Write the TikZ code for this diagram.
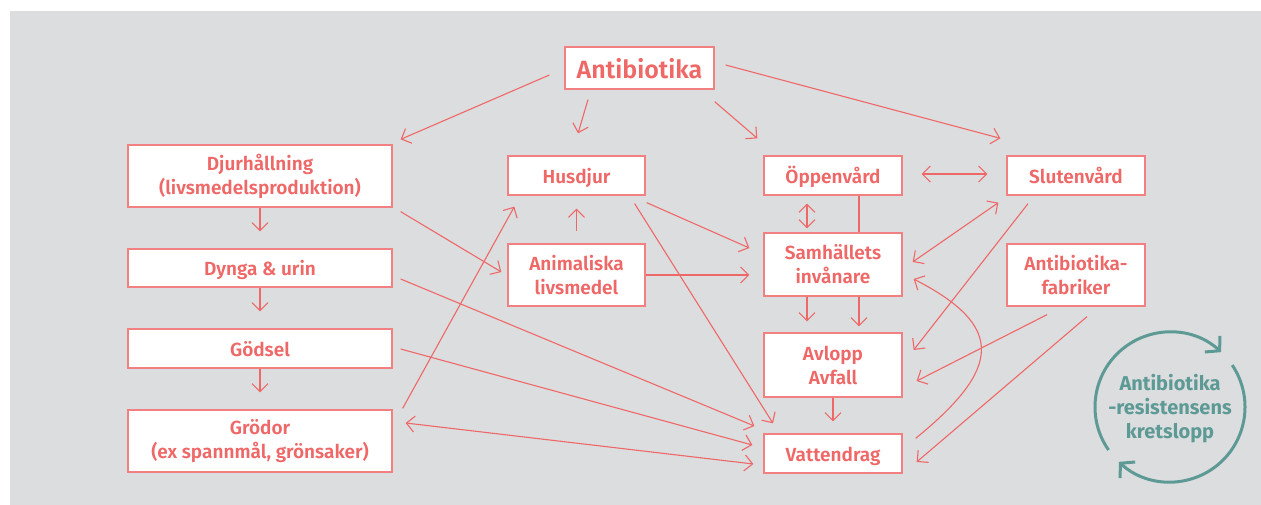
\documentclass[tikz,border=0pt]{standalone}
\usepackage{fontspec}
\setmainfont{Fira Sans}
\newfontfamily\semib{Fira Sans SemiBold}
\usetikzlibrary{arrows.meta,calc}
\definecolor{redc}{RGB}{239,104,104}
\definecolor{boxred}{RGB}{243,128,128}
\definecolor{bggray}{RGB}{220,221,223}
\definecolor{tealc}{RGB}{94,154,149}
\begin{document}
\begin{tikzpicture}[x=1pt,y=-1pt,
  >={Straight Barb[length=8pt,width=16pt]},
  box/.style={draw=boxred, line width=1.3pt, fill=white, text=redc, align=center,
    inner sep=0pt, font=\fontsize{19}{24}\selectfont\semib},
  one/.style={text height=20pt, text depth=4pt},
  arr/.style={draw=redc, line width=1.1pt, ->},
  darr/.style={draw=redc, line width=1.1pt, <->},
  plain/.style={draw=redc, line width=1.1pt},
  cyc/.style={draw=tealc, line width=3pt, line cap=butt, -{Straight Barb[length=10pt,width=22pt]}}]
\useasboundingbox (0,0) rectangle (1261,505);
\fill[bggray] (10,11) rectangle (1261,505);

% nodes
\node[box, minimum width=149, minimum height=42, font=\fontsize{25}{28}\selectfont\semib, text height=26pt, text depth=4.8pt] (anti) at (639.5,68) {Antibiotika};
\node[box, minimum width=264, minimum height=62] (djur) at (260,176) {Djurhållning\\(livsmedelsproduktion)};
\node[box, one, minimum width=264, minimum height=38] (dynga) at (260,268) {Dynga \& urin};
\node[box, one, minimum width=264, minimum height=39] (godsel) at (260,348.5) {Gödsel};
\node[box, minimum width=264, minimum height=62] (grodor) at (260,441) {Grödor\\(ex spannmål, grönsaker)};
\node[box, one, minimum width=137, minimum height=39] (husdjur) at (576.5,175.5) {Husdjur};
\node[box, minimum width=137, minimum height=62] (anim) at (576.5,275) {Animaliska\\livsmedel};
\node[box, one, minimum width=138, minimum height=39] (oppen) at (833,175.5) {Öppenvård};
\node[box, one, minimum width=138, minimum height=39] (sluten) at (1076,175.5) {Slutenvård};
\node[box, minimum width=138, minimum height=63] (samh) at (833,264.5) {Samhällets\\invånare};
\node[box, minimum width=138, minimum height=62] (fabr) at (1076,275) {Antibiotika-\\fabriker};
\node[box, minimum width=138, minimum height=64] (avlopp) at (833,365) {Avlopp\\Avfall};
\node[box, one, minimum width=138, minimum height=39] (vatten) at (833,453.5) {Vattendrag};

% connectors
\draw[arr] ([shift={(-15,7)}]anti.west) -- ([shift={(8,-5)}]djur.north east);
\draw[arr] ([shift={(-51.5,10)}]anti.south) -- ([shift={(1.5,-22)}]husdjur.north);
\draw[arr] ([shift={(0,12)}]anti.south east) -- ([shift={(-6,-17)}]oppen.north west);
\draw[arr] ([shift={(11,-3)}]anti.east) -- ([shift={(-6,-17)}]sluten.north west);

\draw[arr] (djur.south) -- ([shift={(0,-17)}]dynga.north);
\draw[arr] (dynga.south) -- ([shift={(0,-17)}]godsel.north);
\draw[arr] (godsel.south) -- ([shift={(0,-17)}]grodor.north);

\draw[arr] ([shift={(8,4)}]djur.south east) -- ([shift={(-6,-3)}]anim.west);
\draw[arr] ([shift={(0,-12)}]anim.north) -- ([shift={(0,13)}]husdjur.south);
\draw[arr] ([shift={(1,7)}]husdjur.south east) -- ([shift={(-14,-16.5)}]samh.west);
\draw[arr] (anim.east) -- ([shift={(-14,10.5)}]samh.west);
\draw[arr] ([shift={(-11,8)}]husdjur.south east) -- ([shift={(-60,-10)}]vatten.north);
\draw[arr] ([shift={(10,-1)}]grodor.north east) -- ([shift={(7,11)}]husdjur.south west);

\draw[arr] ([shift={(8,11)}]dynga.east) -- ([shift={(-9,-27.5)}]vatten.west);
\draw[arr] ([shift={(8,0.5)}]godsel.east) -- ([shift={(-11,-8.5)}]vatten.west);
\draw[darr] ([shift={(13,-18)}]grodor.east) -- ([shift={(-10,10.5)}]vatten.west);

\draw[darr] ([shift={(-26,8)}]oppen.south) -- ([shift={(-26,-4)}]samh.north);
\draw[plain] ([shift={(26,0)}]oppen.south) -- ([shift={(26,0)}]samh.north);
\draw[darr] ([shift={(19,-1.5)}]oppen.east) -- ([shift={(-19,-1.5)}]sluten.west);
\draw[darr] ([shift={(-8,7)}]sluten.south west) -- ([shift={(10,-2.5)}]samh.east);
\draw[arr] ([shift={(-48,8)}]sluten.south) -- ([shift={(11,-15)}]avlopp.east);

\draw[arr] ([shift={(-26,0)}]samh.south) -- ([shift={(-26,-11)}]avlopp.north);
\draw[arr] ([shift={(26,0)}]samh.south) -- ([shift={(26,-6)}]avlopp.north);
\draw[arr] ([shift={(-29,8)}]fabr.south) -- ([shift={(14,16)}]avlopp.east);
\draw[arr] ([shift={(11,10)}]fabr.south) -- ([shift={(14,8.5)}]vatten.east);
\draw[arr] (avlopp.south) -- ([shift={(0,-12)}]vatten.north);
\draw[arr] ([shift={(13,5)}]vatten.north east) .. controls (1002,368) and (1005,326) .. ([shift={(11,14.5)}]samh.east);

% cycle
\node[text=tealc, align=center, font=\fontsize{20}{24}\selectfont\bfseries] (cycle) at (1170,409) {Antibiotika\\-resistensens\\kretslopp};
\begin{scope}[shift={(1170,407)}, y=1pt]
\draw[cyc] (215:75) arc[start angle=215, end angle=47, radius=75];
\draw[cyc] (34:75) arc[start angle=34, end angle=-133, radius=75];
\end{scope}
\end{tikzpicture}
\end{document}
